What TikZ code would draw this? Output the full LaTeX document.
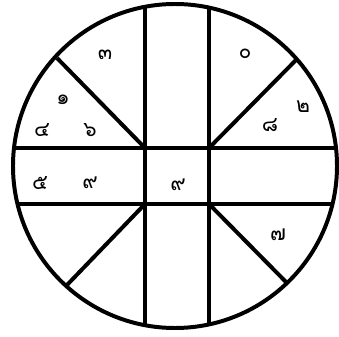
\documentclass[tikz,border=0pt]{standalone}
\usepackage{fontspec}
\newfontfamily\thaifont[Script=Thai]{Loma}

\begin{document}
\begin{tikzpicture}[
    x=0.03cm, y=-0.03cm,
    rim/.style={line width=3.4pt},
    bar/.style={line width=2.6pt},
    spoke/.style={line width=3.4pt},
    digit/.style={font=\thaifont\fontsize{18}{18}\selectfont, inner sep=0pt}
]

    \useasboundingbox (0,0) rectangle (339,336);

    % outer circle
    \node[circle, draw, rim, minimum size=324*0.03cm, inner sep=0pt] (C) at (175,166) {};

    % ends of the straight lines on the circle
    \coordinate (V1a) at (145,6.8);
    \coordinate (V1b) at (145,325.2);
    \coordinate (V2a) at (209,7.6);
    \coordinate (V2b) at (209,324.4);
    \coordinate (H1a) at (14,148);
    \coordinate (H1b) at (336,148);
    \coordinate (H2a) at (17.5,204);
    \coordinate (H2b) at (332.5,204);

    % corners of the middle square
    \coordinate (Q1) at (145,148);
    \coordinate (Q2) at (209,148);
    \coordinate (Q3) at (145,204);
    \coordinate (Q4) at (209,204);

    % outer ends of the diagonals
    \coordinate (D1) at (57,58);
    \coordinate (D2) at (296,60);
    \coordinate (D3) at (67,285);
    \coordinate (D4) at (287,283);

    \draw[bar] (V1a) -- (V1b);
    \draw[bar] (V2a) -- (V2b);
    \draw[bar] (H1a) -- (H1b);
    \draw[bar] (H2a) -- (H2b);

    \draw[spoke] (Q1) -- (D1);
    \draw[spoke] (Q2) -- (D2);
    \draw[spoke] (Q3) -- (D3);
    \draw[spoke] (Q4) -- (D4);

    % numerals
    \node[digit] (N3) at (105,55) {๓};
    \node[digit] (N1) at (63,100) {๑};
    \node[digit] (N4) at (42,130) {๔};
    \node[digit] (N6) at (90,130) {๖};
    \node[digit] (N5) at (40,183) {๕};
    \node[digit] (N9a) at (90,183) {๙};
    \node[digit] (N9b) at (178,185) {๙};
    \node[digit] (N0) at (245,54) {๐};
    \node[digit] (N2) at (303,107) {๒};
    \node[digit] (N8) at (270,125) {๘};
    \node[digit] (N7) at (278,235) {๗};

\end{tikzpicture}
\end{document}
